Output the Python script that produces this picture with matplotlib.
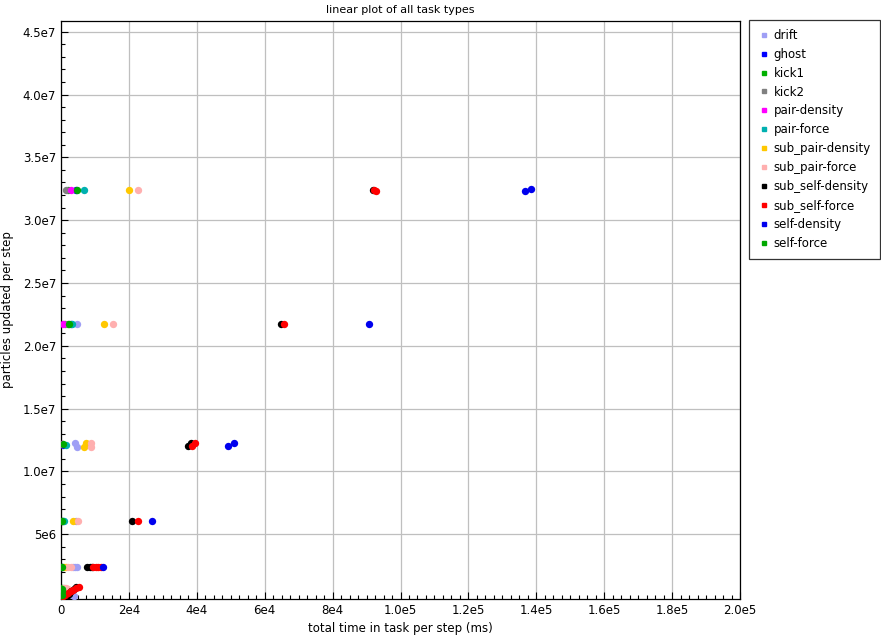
import matplotlib
matplotlib.use("Agg")
import matplotlib.pyplot as plt
from matplotlib.lines import Line2D
from matplotlib.ticker import MultipleLocator, FixedLocator, FixedFormatter

# task types and colours
task_names = ["drift", "ghost", "kick1", "kick2", "pair-density", "pair-force",
              "sub_pair-density", "sub_pair-force", "sub_self-density",
              "sub_self-force", "self-density", "self-force"]
task_colors = ["#9f9ff5", "#0000ff", "#00b000", "#808080", "#ff00ff", "#00b0b0",
               "#ffc800", "#ffafaf", "#000000", "#ff0000", "#0000ee", "#00a800"]

# total time in task per step (ms)
drift_x = [4500, 4620, 4120, 4620, 4420, 3620, 4100, 4620, 2700, 3200, 3800]
ghost_x = [4300, 3000, 600, 500, 300, 400]
kick1_x = [2000, 1970, 200, 200, 200, 200, 200, 200, 200]
kick2_x = [1500, 1200, 150, 150, 150, 150]
pair_density_x = [2950, 680, 300]
pair_force_x = [6860, 3150, 1400, 880]
sub_pair_density_x = [20030, 12750, 6860, 7280, 3620, 880, 1500]
sub_pair_force_x = [22590, 15400, 8920, 8920, 5100, 2150, 2800, 900, 1500, 2100]
sub_self_density_x = [92000, 64700, 37500, 38300, 21000, 7750, 8400, 9040,
                      1800, 2400, 3000, 3700, 4300]
sub_self_force_x = [92300, 92700, 65800, 38700, 39560, 22770, 9510, 10200, 11000,
                    11700, 700, 1200, 2000, 2800, 3600, 4400, 5200]
self_density_x = [136800, 138300, 90600, 49280, 51050, 26900, 12280]
self_force_x = [4620, 2300, 500, 300, 200, 200, 200, 200]

# particles updated per step
drift_y = [3.24e7, 2.17e7, 1.224e7, 1.198e7, 6.05e6, 2.39e6, 2.39e6, 2.39e6,
           0.3e6, 0.15e6, 0.05e6]
ghost_y = [3.24e7, 2.17e7, 1.21e7, 6.05e6, 2.39e6, 0.3e6]
kick1_y = [3.24e7, 2.17e7, 1.22e7, 6.05e6, 2.39e6, 0.1e6, 0.3e6, 0.5e6, 0.75e6]
kick2_y = [3.24e7, 2.17e7, 1.22e7, 6.05e6, 2.39e6, 0.4e6]
pair_density_y = [3.24e7, 2.17e7, 1.22e7]
pair_force_y = [3.24e7, 2.17e7, 1.21e7, 6.05e6]
sub_pair_density_y = [3.24e7, 2.17e7, 1.198e7, 1.224e7, 6.05e6, 2.39e6, 2.39e6]
sub_pair_force_y = [3.24e7, 2.17e7, 1.198e7, 1.224e7, 6.05e6, 2.39e6, 2.39e6,
                    0.75e6, 0.7e6, 0.65e6]
sub_self_density_y = [3.24e7, 2.17e7, 1.202e7, 1.224e7, 6.05e6, 2.39e6, 2.39e6,
                      2.39e6, 0.05e6, 0.25e6, 0.45e6, 0.65e6, 0.8e6]
sub_self_force_y = [3.24e7, 3.235e7, 2.17e7, 1.202e7, 1.224e7, 6.05e6, 2.39e6,
                    2.39e6, 2.39e6, 2.39e6, 0.05e6, 0.15e6, 0.3e6, 0.45e6,
                    0.55e6, 0.7e6, 0.78e6]
self_density_y = [3.235e7, 3.245e7, 2.17e7, 1.202e7, 1.224e7, 6.05e6, 2.39e6]
self_force_y = [3.24e7, 2.17e7, 1.22e7, 6.05e6, 2.39e6, 0.2e6, 0.45e6, 0.65e6]

task_x = [drift_x, ghost_x, kick1_x, kick2_x, pair_density_x, pair_force_x,
          sub_pair_density_x, sub_pair_force_x, sub_self_density_x,
          sub_self_force_x, self_density_x, self_force_x]
task_y = [drift_y, ghost_y, kick1_y, kick2_y, pair_density_y, pair_force_y,
          sub_pair_density_y, sub_pair_force_y, sub_self_density_y,
          sub_self_force_y, self_density_y, self_force_y]

x_ticks = [0, 2e4, 4e4, 6e4, 8e4, 1e5, 1.2e5, 1.4e5, 1.6e5, 1.8e5, 2e5]
x_labels = ["0", "2e4", "4e4", "6e4", "8e4", "1.0e5", "1.2e5", "1.4e5",
            "1.6e5", "1.8e5", "2.0e5"]
y_ticks = [5e6, 1e7, 1.5e7, 2e7, 2.5e7, 3e7, 3.5e7, 4e7, 4.5e7]
y_labels = ["5e6", "1.0e7", "1.5e7", "2.0e7", "2.5e7", "3.0e7", "3.5e7",
            "4.0e7", "4.5e7"]

plt.rcParams['font.family'] = ['DejaVu Sans']

fig = plt.figure(figsize=(8.81, 6.39), dpi=100)
ax = fig.add_axes([61 / 881, 1 - 599 / 639, 679 / 881, 578 / 639])

for name, col, xs, ys in zip(task_names, task_colors, task_x, task_y):
    ax.scatter(xs, ys, s=28, color=col, linewidths=0, zorder=3)

ax.set_xlim(0, 2e5)
ax.set_ylim(-1.5e5, 4.585e7)

ax.xaxis.set_major_locator(FixedLocator(x_ticks))
ax.xaxis.set_major_formatter(FixedFormatter(x_labels))
ax.yaxis.set_major_locator(FixedLocator(y_ticks))
ax.yaxis.set_major_formatter(FixedFormatter(y_labels))
ax.xaxis.set_minor_locator(MultipleLocator(2500))
ax.yaxis.set_minor_locator(MultipleLocator(1e6))

ax.tick_params(which='both', direction='in', labelsize=8.5, width=0.8)
ax.tick_params(which='major', length=5)
ax.tick_params(which='minor', length=3)
ax.grid(True, which='major', color='#bfbfbf', linewidth=0.9, zorder=0)
ax.set_axisbelow(True)
for sp in ax.spines.values():
    sp.set_linewidth(0.9)

ax.set_title("linear plot of all task types", fontsize=8, pad=6)
ax.set_xlabel("total time in task per step (ms)", fontsize=8.5, labelpad=4)
ax.set_ylabel("particles updated per step", fontsize=8.5, labelpad=6)

handles = [Line2D([], [], marker='s', linestyle='none', markersize=3.2,
                  markerfacecolor=c, markeredgecolor=c) for c in task_colors]
leg = fig.legend(handles, task_names, loc='upper left',
                 bbox_to_anchor=(749 / 881, 1 - 20 / 639), fontsize=8.5,
                 frameon=True, fancybox=False, handlelength=1.0,
                 handletextpad=0.35, labelspacing=0.5, borderpad=0.75,
                 borderaxespad=0)
leg.get_frame().set_edgecolor('black')
leg.get_frame().set_linewidth(0.9)

fig.savefig("out.png", dpi=100)
